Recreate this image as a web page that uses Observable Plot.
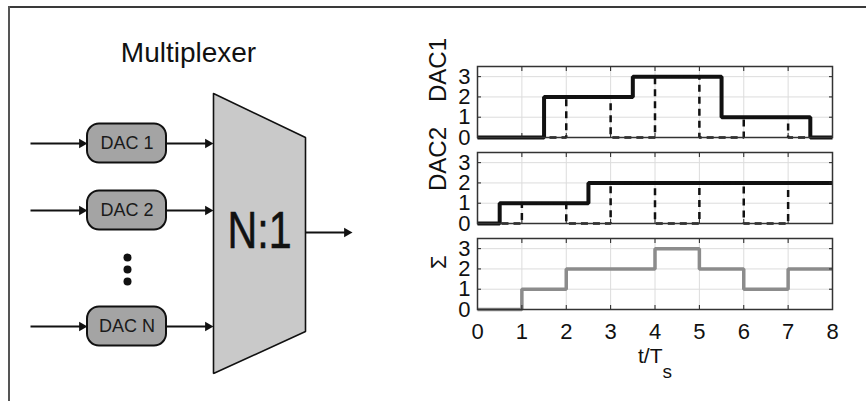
<!DOCTYPE html>
<html><head><meta charset="utf-8">
<script src="https://cdn.jsdelivr.net/npm/d3@7"></script>
<script src="https://cdn.jsdelivr.net/npm/@observablehq/plot@0.6"></script>
<style>
html,body{margin:0;padding:0;background:#fff;}
#chart{position:relative;width:866px;height:401px;overflow:hidden;background:#fff;}
#chart svg{position:absolute;}
</style></head><body><div id="chart"></div>
<script>
// ---------- step-plot data (t in units of Ts) ----------
const xTicks = [0, 1, 2, 3, 4, 5, 6, 7, 8];
const yTicks = [0, 1, 2, 3];
const dac1HoldT  = [0, 1.5, 3.5, 5.5, 7.5, 8];
const dac1HoldV  = [0, 2, 3, 1, 0, 0];
const dac1PulseT = [0, 2, 3, 4, 5, 6, 7, 8];
const dac1PulseV = [0, 2, 0, 3, 0, 1, 0, 0];
const dac2HoldT  = [0, 0.5, 2.5, 8];
const dac2HoldV  = [0, 1, 2, 2];
const dac2PulseT = [0, 1, 2, 3, 4, 5, 6, 7, 8];
const dac2PulseV = [0, 1, 0, 2, 0, 2, 0, 2, 2];
const sumT = [0, 1, 2, 4, 5, 6, 7, 8];
const sumV = [0, 1, 2, 3, 2, 1, 2, 2];
const panelLabels = ["DAC1", "DAC2", "Σ"];
const xLabel = "t/T";
const xLabelSub = "s";

// ---------- diagram content ----------
const diagramTitle = "Multiplexer";
const muxLabel = "N:1";
const dacNames = ["DAC 1", "DAC 2", "DAC N"];

// ---------- diagram layout (pixel space) ----------
const L = {
  rowY: [143, 210, 326],
  inX: 30, boxX1: 87, boxX2: 166, boxH: 39, muxX1: 213, muxX2: 305,
  outTip: 352, outY: 232,
  dotX: 127, dotY: [257, 269, 281],
  mux: [[213, 93], [305, 137], [305, 331], [213, 373], [213, 93]],
  titleX: 188, titleY: 53, muxLabelX: 259, muxLabelY: 231
};

const FONT = '"Liberation Sans", Arial, Helvetica, sans-serif';
const chart = document.getElementById("chart");

const pts = (T, V) => T.map((t, i) => ({t, v: V[i]}));

// ---------- diagram ----------
const rows = dacNames.map((name, i) => ({name, y: L.rowY[i]}));
const segs = [];
rows.forEach(r => {
  segs.push({x1: L.inX, x2: L.boxX1, y: r.y});
  segs.push({x1: L.boxX2, x2: L.muxX1, y: r.y});
});
segs.push({x1: L.muxX2, x2: L.outTip, y: L.outY});
const muxPts = L.mux.map(([x, y]) => ({x, y}));

const diagram = Plot.plot({
  width: 866, height: 401, margin: 0,
  x: {domain: [0, 866], range: [0, 866], axis: null},
  y: {domain: [0, 401], range: [0, 401], axis: null},
  style: {fontFamily: FONT, background: "transparent"},
  marks: [
    Plot.ruleY([6.5], {x1: () => 8, x2: () => 866, stroke: "#3a3a3a", strokeWidth: 2}),
    Plot.ruleX([8.5], {y1: () => 6, y2: () => 401, stroke: "#555", strokeWidth: 2}),
    Plot.text([diagramTitle], {x: () => L.titleX, y: () => L.titleY, text: d => d, fontSize: 28, fill: "#111"}),
    Plot.line(muxPts, {x: "x", y: "y", fill: "#c9c9c9", stroke: "#111", strokeWidth: 1.6, strokeLinejoin: "miter", curve: "linear"}),
    Plot.text([muxLabel], {x: () => L.muxLabelX, y: () => L.muxLabelY, text: d => d, fontSize: 52, fill: "#111"}),
    Plot.link(segs, {x1: "x1", x2: d => d.x2 - 5, y1: "y", y2: "y", stroke: "#111", strokeWidth: 2}),
    Plot.dot(segs, {x: "x2", y: "y", symbol: "triangle", rotate: 90, r: 3.6, fill: "#111", stroke: "none", dx: -5.6}),
    Plot.rect(rows, {x1: () => L.boxX1, x2: () => L.boxX2, y1: d => d.y - L.boxH / 2, y2: d => d.y + L.boxH / 2,
      rx: 12, fill: "#a4a4a4", stroke: "#111", strokeWidth: 2}),
    Plot.text(rows, {x: () => (L.boxX1 + L.boxX2) / 2, y: "y", text: "name", fontSize: 18, fill: "#1a1a1a"}),
    Plot.dot(L.dotY, {x: () => L.dotX, y: d => d, r: 4, fill: "#111", stroke: "none"})
  ]
});
diagram.style.left = "0px"; diagram.style.top = "0px";
// condense the "N:1" glyphs horizontally, like the reference's narrow lettering
d3.select(diagram).selectAll("text").filter(function () { return this.textContent === muxLabel; })
  .attr("textLength", 64).attr("lengthAdjust", "spacingAndGlyphs").attr("stroke", "#111").attr("stroke-width", 0.6);
chart.appendChild(diagram);

// ---------- step panels ----------
function panel({label, series, frameTop, bottomAxis, labelDy = 0, labelSize = 24}) {
  const mt = 10, ph = 71, mb = bottomAxis ? 80 : 10;
  const marks = [
    Plot.gridX(xTicks, {stroke: "#dcdcdc", strokeOpacity: 1, strokeWidth: 1}),
    Plot.gridY(yTicks, {stroke: "#dcdcdc", strokeOpacity: 1, strokeWidth: 1}),
    ...series,
    Plot.axisX({ticks: xTicks, anchor: "top", tickSize: 4, dy: 4, tickFormat: () => "", label: null, stroke: "#222"}),
    Plot.axisX({ticks: xTicks, anchor: "bottom", tickSize: 4, dy: -4, tickFormat: () => "", label: null, stroke: "#222"}),
    Plot.axisY({ticks: yTicks, anchor: "left", tickSize: 4, dx: 4, tickFormat: () => "", label: null, stroke: "#222"}),
    Plot.axisY({ticks: yTicks, anchor: "right", tickSize: 4, dx: -4, tickFormat: () => "", label: null, stroke: "#222"}),
    Plot.axisY({ticks: yTicks, anchor: "left", tickSize: 0, tickPadding: 7, tickFormat: d => String(d), label: null, fill: "#111", fontSize: 22}),
    Plot.text([label], {frameAnchor: "left", text: d => d, rotate: -90, dx: -39, dy: labelDy, fontSize: labelSize, fill: "#111"}),
    Plot.frame({stroke: "#333", strokeWidth: 1.5})
  ];
  if (bottomAxis) {
    marks.push(Plot.axisX({ticks: xTicks, anchor: "bottom", tickSize: 0, tickPadding: 14, tickFormat: d => String(d), label: null, fill: "#111", fontSize: 22}));
    marks.push(Plot.text([xLabel], {frameAnchor: "bottom", text: d => d, dy: 53, fontSize: 21, fill: "#111"}));
  }
  const svg = Plot.plot({
    width: 466, height: mt + ph + mb,
    marginLeft: 76, marginRight: 35, marginTop: mt, marginBottom: mb,
    x: {domain: [0, 8]},
    y: {domain: [0, 3.5]},
    style: {fontFamily: FONT, fontSize: "21px", background: "transparent", overflow: "visible", color: "#111"},
    marks
  });
  svg.style.left = "401px";
  svg.style.top = (frameTop - mt) + "px";
  // drop the blank labels of the tick-only axes
  d3.select(svg).selectAll("text").filter(function () { return this.textContent === ""; }).remove();
  if (bottomAxis) {
    d3.select(svg).selectAll("text").filter(function () { return this.textContent === xLabel; })
      .append("tspan").attr("dy", 15).attr("font-size", 19).text(xLabelSub);
  }
  chart.appendChild(svg);
}

const solid = d => Plot.line(d, {x: "t", y: "v", curve: "step-after", stroke: "#111", strokeWidth: 4, strokeLinejoin: "miter", strokeLinecap: "butt"});
const dashed = d => Plot.line(d, {x: "t", y: "v", curve: "step-after", stroke: "#111", strokeWidth: 2.5, strokeDasharray: "7,5", strokeLinejoin: "miter", strokeLinecap: "butt"});

panel({label: panelLabels[0], frameTop: 66, series: [solid(pts(dac1HoldT, dac1HoldV)), dashed(pts(dac1PulseT, dac1PulseV))]});
panel({label: panelLabels[1], frameTop: 152, labelDy: 3, series: [solid(pts(dac2HoldT, dac2HoldV)), dashed(pts(dac2PulseT, dac2PulseV))]});
panel({label: panelLabels[2], frameTop: 238, labelDy: -5, labelSize: 22, bottomAxis: true,
  series: [Plot.line(pts(sumT, sumV), {x: "t", y: "v", curve: "step-after", stroke: "#8c8c8c", strokeWidth: 3.5, strokeLinejoin: "miter", strokeLinecap: "butt"})]});
</script>
</body></html>
